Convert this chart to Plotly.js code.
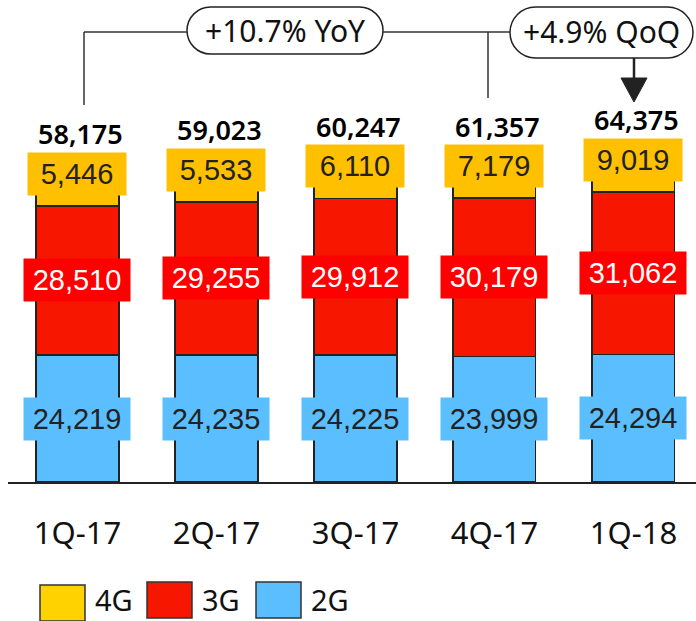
<!DOCTYPE html>
<html>
<head>
<meta charset="utf-8">
<script src="https://cdn.plot.ly/plotly-3.0.1.min.js"></script>
<style>
  html, body { margin: 0; padding: 0; background: #fff; }
  #subsPlot { width: 696px; height: 621px; }
</style>
</head>
<body>
<div id="subsPlot"></div>
<script>
let quarters = ['1Q-17', '2Q-17', '3Q-17', '4Q-17', '1Q-18'];
let subs2G = [24219, 24235, 24225, 23999, 24294];
let subs3G = [28510, 29255, 29912, 30179, 31062];
let subs4G = [5446, 5533, 6110, 7179, 9019];
let totals = [58175, 59023, 60247, 61357, 64375];

let yoyText = '+10.7% YoY';
let qoqText = '+4.9% QoQ';

// plot area in pixels (used only for the decorations above the bars)
const PL = 8, PW = 688, PH = 482;
function px(x) { return (x - PL) / PW; }
function py(y) { return (PH - y) / PH; }

// rounded "pill" outline as a path in paper coords
function pill(x1, y1, x2, y2) {
  let r = (y2 - y1) / 2, k = 0.5523 * r;
  let p = (x, y) => px(x) + ',' + py(y);
  return 'M' + p(x1 + r, y1) + ' L' + p(x2 - r, y1) +
    ' C' + p(x2 - r + k, y1) + ' ' + p(x2, y1 + r - k) + ' ' + p(x2, y1 + r) +
    ' C' + p(x2, y1 + r + k) + ' ' + p(x2 - r + k, y2) + ' ' + p(x2 - r, y2) +
    ' L' + p(x1 + r, y2) +
    ' C' + p(x1 + r - k, y2) + ' ' + p(x1, y1 + r + k) + ' ' + p(x1, y1 + r) +
    ' C' + p(x1, y1 + r - k) + ' ' + p(x1 + r - k, y1) + ' ' + p(x1 + r, y1) + ' Z';
}

function makeSubsPlot(plotDiv) {
  let outline = { color: '#222', width: 1.5 };

  let trace2G = {
    x: quarters, y: subs2G, name: '2G', type: 'bar',
    marker: { color: '#5BBFFF', line: outline }, hoverinfo: 'skip'
  };
  let trace3G = {
    x: quarters, y: subs3G, name: '3G', type: 'bar',
    marker: { color: '#F71700', line: outline }, hoverinfo: 'skip'
  };
  let trace4G = {
    x: quarters, y: subs4G, name: '4G', type: 'bar',
    marker: { color: '#FFC000', line: outline }, hoverinfo: 'skip'
  };

  let annotations = [];
  let fmt = v => v.toLocaleString('en-US');
  let valueFont = (c) => ({ family: 'Liberation Sans, Arial, sans-serif', size: 29, color: c });

  quarters.forEach((q, i) => {
    let top3 = subs2G[i] + subs3G[i];
    // 2G label
    annotations.push({
      x: q, y: subs2G[i] / 2, xref: 'x', yref: 'y', showarrow: false,
      text: fmt(subs2G[i]), font: valueFont('#222'),
      bgcolor: '#5BBFFF', width: 98, height: 34, borderpad: 4
    });
    // 3G label
    annotations.push({
      x: q, y: subs2G[i] + subs3G[i] / 2, xref: 'x', yref: 'y', showarrow: false,
      text: fmt(subs3G[i]), font: valueFont('#fff'),
      bgcolor: '#FF0000', width: 98, height: 34, borderpad: 4
    });
    // 4G label sits just above the 3G segment
    annotations.push({
      x: q, y: top3, xref: 'x', yref: 'y', showarrow: false, yshift: 32,
      text: fmt(subs4G[i]), font: valueFont('#222'),
      bgcolor: '#FFC000', width: 90, height: 34, borderpad: 4
    });
    // total
    annotations.push({
      x: q, y: top3, xref: 'x', yref: 'y', showarrow: false, yshift: 72, xshift: 3,
      text: fmt(totals[i]),
      font: { family: 'Noto Sans, sans-serif', size: 27, color: '#000', weight: 600 }
    });
  });

  // growth callouts
  let calloutFont = { family: 'Noto Sans, sans-serif', size: 30, color: '#111' };
  annotations.push({
    xref: 'paper', yref: 'paper', x: px(285), y: py(31), xanchor: 'center', yanchor: 'middle',
    showarrow: false, text: yoyText, font: calloutFont
  });
  annotations.push({
    xref: 'paper', yref: 'paper', x: px(601), y: py(32), xanchor: 'center', yanchor: 'middle',
    showarrow: false, text: qoqText, font: calloutFont
  });

  // legend (drawn by hand so the swatches are big)
  let legendItems = [
    { name: '4G', color: '#FFD200', x: 40, y: 585 },
    { name: '3G', color: '#F71700', x: 147, y: 582 },
    { name: '2G', color: '#5BBFFF', x: 256, y: 582 }
  ];
  let shapes = [];
  legendItems.forEach(it => {
    shapes.push({
      type: 'rect', xref: 'paper', yref: 'paper',
      x0: px(it.x), x1: px(it.x + 45), y0: py(it.y), y1: py(it.y + 36),
      fillcolor: it.color, line: { color: '#333', width: 1.5 }
    });
    annotations.push({
      xref: 'paper', yref: 'paper', x: px(it.x + 53), y: py(599), xanchor: 'left', yanchor: 'middle',
      showarrow: false, text: it.name,
      font: { family: 'Noto Sans, sans-serif', size: 29, color: '#111' }
    });
  });

  let thin = { color: '#333', width: 1.5 };
  shapes.push(
    { type: 'path', xref: 'paper', yref: 'paper', path: pill(187, 7, 383, 54), line: { color: '#222', width: 1.5 } },
    { type: 'path', xref: 'paper', yref: 'paper', path: pill(510, 7, 693, 58), line: { color: '#222', width: 1.5 } },
    { type: 'line', xref: 'paper', yref: 'paper', x0: px(84), x1: px(84), y0: py(32), y1: py(105), line: thin },
    { type: 'line', xref: 'paper', yref: 'paper', x0: px(84), x1: px(187), y0: py(32), y1: py(32), line: thin },
    { type: 'line', xref: 'paper', yref: 'paper', x0: px(383), x1: px(510), y0: py(32), y1: py(32), line: thin },
    { type: 'line', xref: 'paper', yref: 'paper', x0: px(488), x1: px(488), y0: py(32), y1: py(98), line: thin },
    { type: 'line', xref: 'paper', yref: 'paper', x0: px(634), x1: px(634), y0: py(58), y1: py(80), line: { color: '#222', width: 2.5 } },
    {
      type: 'path', xref: 'paper', yref: 'paper',
      path: 'M' + px(621) + ',' + py(78) + ' L' + px(647) + ',' + py(78) + ' L' + px(634) + ',' + py(102) + ' Z',
      fillcolor: '#222', line: { color: '#222', width: 1 }
    }
  );

  let layout = {
    width: 696,
    height: 621,
    barmode: 'stack',
    bargap: 0.406,
    showlegend: false,
    paper_bgcolor: '#fff',
    plot_bgcolor: '#fff',
    margin: { l: PL, r: 0, t: 0, b: 621 - PH },
    font: { family: 'Noto Sans, sans-serif', color: '#111' },
    xaxis: {
      type: 'category',
      range: [-0.5, 4.45],
      showline: true,
      linecolor: '#222',
      linewidth: 2,
      ticks: '',
      ticklabelstandoff: 23,
      tickfont: { family: 'Noto Sans, sans-serif', size: 31, color: '#111' },
      fixedrange: true
    },
    yaxis: {
      visible: false,
      range: [0, 92000],
      fixedrange: true
    },
    annotations: annotations,
    shapes: shapes
  };

  let config = { staticPlot: true };

  let data = [trace2G, trace3G, trace4G];

  Plotly.newPlot(plotDiv, data, layout, config);
}

makeSubsPlot(document.getElementById('subsPlot'));
</script>
</body>
</html>
